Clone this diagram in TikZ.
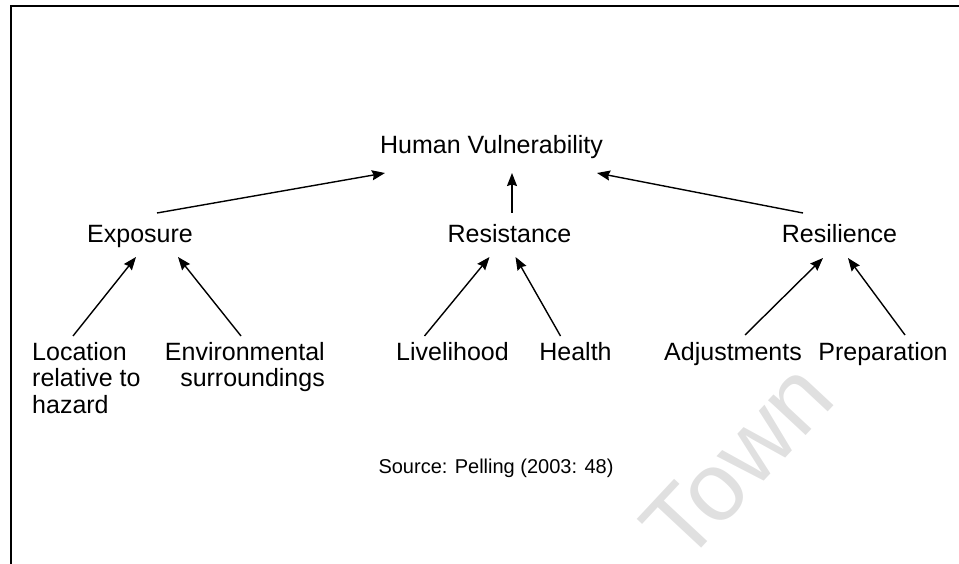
\documentclass[tikz,border=0pt]{standalone}
\usepackage{fontspec}
\setmainfont{Liberation Sans}
\usetikzlibrary{arrows.meta}

\tikzset{
  lbl/.style={inner sep=0pt, font=\fontsize{25}{26.5}\selectfont},
  src/.style={inner sep=0pt, font=\fontsize{20}{24}\selectfont},
  link/.style={line width=1.4pt, -{Stealth[length=13pt,width=10pt,inset=1.5pt]}},
  framestroke/.style={line width=2pt},
  wmark/.style={inner sep=0pt, text=black!12, font=\fontsize{97}{97}\selectfont}
}

\begin{document}
\begin{tikzpicture}[x=1pt, y=-1pt]
  \useasboundingbox (0,0) rectangle (959,564);

  % faint watermark in the lower right
  \node[wmark, rotate=47, anchor=base west] (wm) at (684,567) {Town};

  % partial frame: top and left edges
  \draw[framestroke] (10.5,564) -- (10.5,6) -- (959,6);

  % top level
  \node[lbl, anchor=base] (hv) at (491.5,154) {Human Vulnerability};

  % middle level
  \node[lbl, anchor=base] (expo) at (140,243) {Exposure};
  \node[lbl, anchor=base] (resist) at (509.5,243) {Resistance};
  \node[lbl, anchor=base] (resil) at (839.5,243) {Resilience};

  % bottom level
  \node[lbl, anchor=north west, align=left] (loc) at (32,342) {Location\\relative to\\hazard};
  \node[lbl, anchor=north east, align=right] (env) at (325,342) {Environmental\\surroundings};
  \node[lbl, anchor=base] (live) at (452.5,360) {Livelihood};
  \node[lbl, anchor=base] (health) at (575.5,360) {Health};
  \node[lbl, anchor=base] (adj) at (733,360) {Adjustments};
  \node[lbl, anchor=base] (prep) at (883,360) {Preparation};

  % source note
  \node[src, anchor=base] (source) at (496,473) {Source: Pelling (2003: 48)};

  % connectors into the top node
  \draw[link] ([shift={(17,-30)}]expo.base) -- ([shift={(-106.5,19)}]hv.base);
  \draw[link] ([shift={(2.5,-30)}]resist.base) -- ([shift={(20.5,19)}]hv.base);
  \draw[link] ([shift={(-36.5,-30)}]resil.base) -- ([shift={(105.5,19)}]hv.base);

  % connectors into Exposure
  \draw[link] ([shift={(41,-6)}]loc.north west) -- ([shift={(-4,14)}]expo.base);
  \draw[link] ([shift={(-84,-6)}]env.north east) -- ([shift={(38,14)}]expo.base);

  % connectors into Resistance
  \draw[link] ([shift={(-28,-24)}]live.base) -- ([shift={(-20,14)}]resist.base);
  \draw[link] ([shift={(-15,-24)}]health.base) -- ([shift={(6,14)}]resist.base);

  % connectors into Resilience
  \draw[link] ([shift={(12,-25)}]adj.base) -- ([shift={(-16.5,15)}]resil.base);
  \draw[link] ([shift={(22,-25)}]prep.base) -- ([shift={(8.5,15)}]resil.base);
\end{tikzpicture}
\end{document}
